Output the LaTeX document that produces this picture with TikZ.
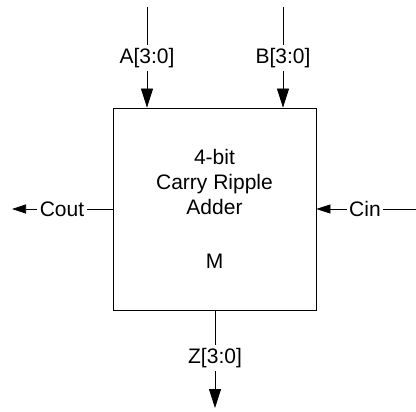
\documentclass[tikz,border=0pt]{standalone}
\usepackage{fontspec}
\setmainfont{Liberation Sans}
\usetikzlibrary{arrows.meta, positioning}

\begin{document}
\begin{tikzpicture}[x=1pt, y=-1pt, line width=0.75pt,
    font=\fontsize{21}{25}\selectfont,
    pinlabel/.style={inner xsep=2pt, inner ysep=3pt},
    bus/.style={-{Triangle[length=19pt, width=12pt]}},
    wire/.style={-{Triangle[length=14pt, width=9pt]}}]
    \useasboundingbox (0, 0) rectangle (416, 412);

    % Addierer-Block
    \node[draw, minimum width=203pt, minimum height=202pt, align=center]
        (adder) at (214.5, 209) {4-bit\\Carry Ripple\\Adder\\[29pt]M};

    % Eingaenge oben
    \coordinate (atop) at (147, 7);
    \coordinate (btop) at (283, 7);
    \node[pinlabel] (a) at (147, 58) {A[3:0]};
    \node[pinlabel] (b) at (283, 58) {B[3:0]};
    \draw (atop) -- (a);
    \draw (btop) -- (b);
    \draw[bus] (a) -- (a |- adder.north);
    \draw[bus] (b) -- (b |- adder.north);

    % Uebertrag links / rechts
    \coordinate (coutend) at (12, 209);
    \coordinate (cinend) at (416, 209);
    \node[pinlabel] (cout) at (62, 209) {Cout};
    \node[pinlabel] (cin) at (365, 209) {Cin};
    \draw (adder.west) -- (cout);
    \draw[wire] (cout) -- (coutend);
    \draw (cinend) -- (cin);
    \draw[wire] (cin) -- (adder.east);

    % Summe unten
    \coordinate (zend) at (215, 408);
    \node[pinlabel] (z) at (215, 358) {Z[3:0]};
    \draw (adder.south -| z) -- (z);
    \draw[bus] (z) -- (zend);
\end{tikzpicture}
\end{document}
